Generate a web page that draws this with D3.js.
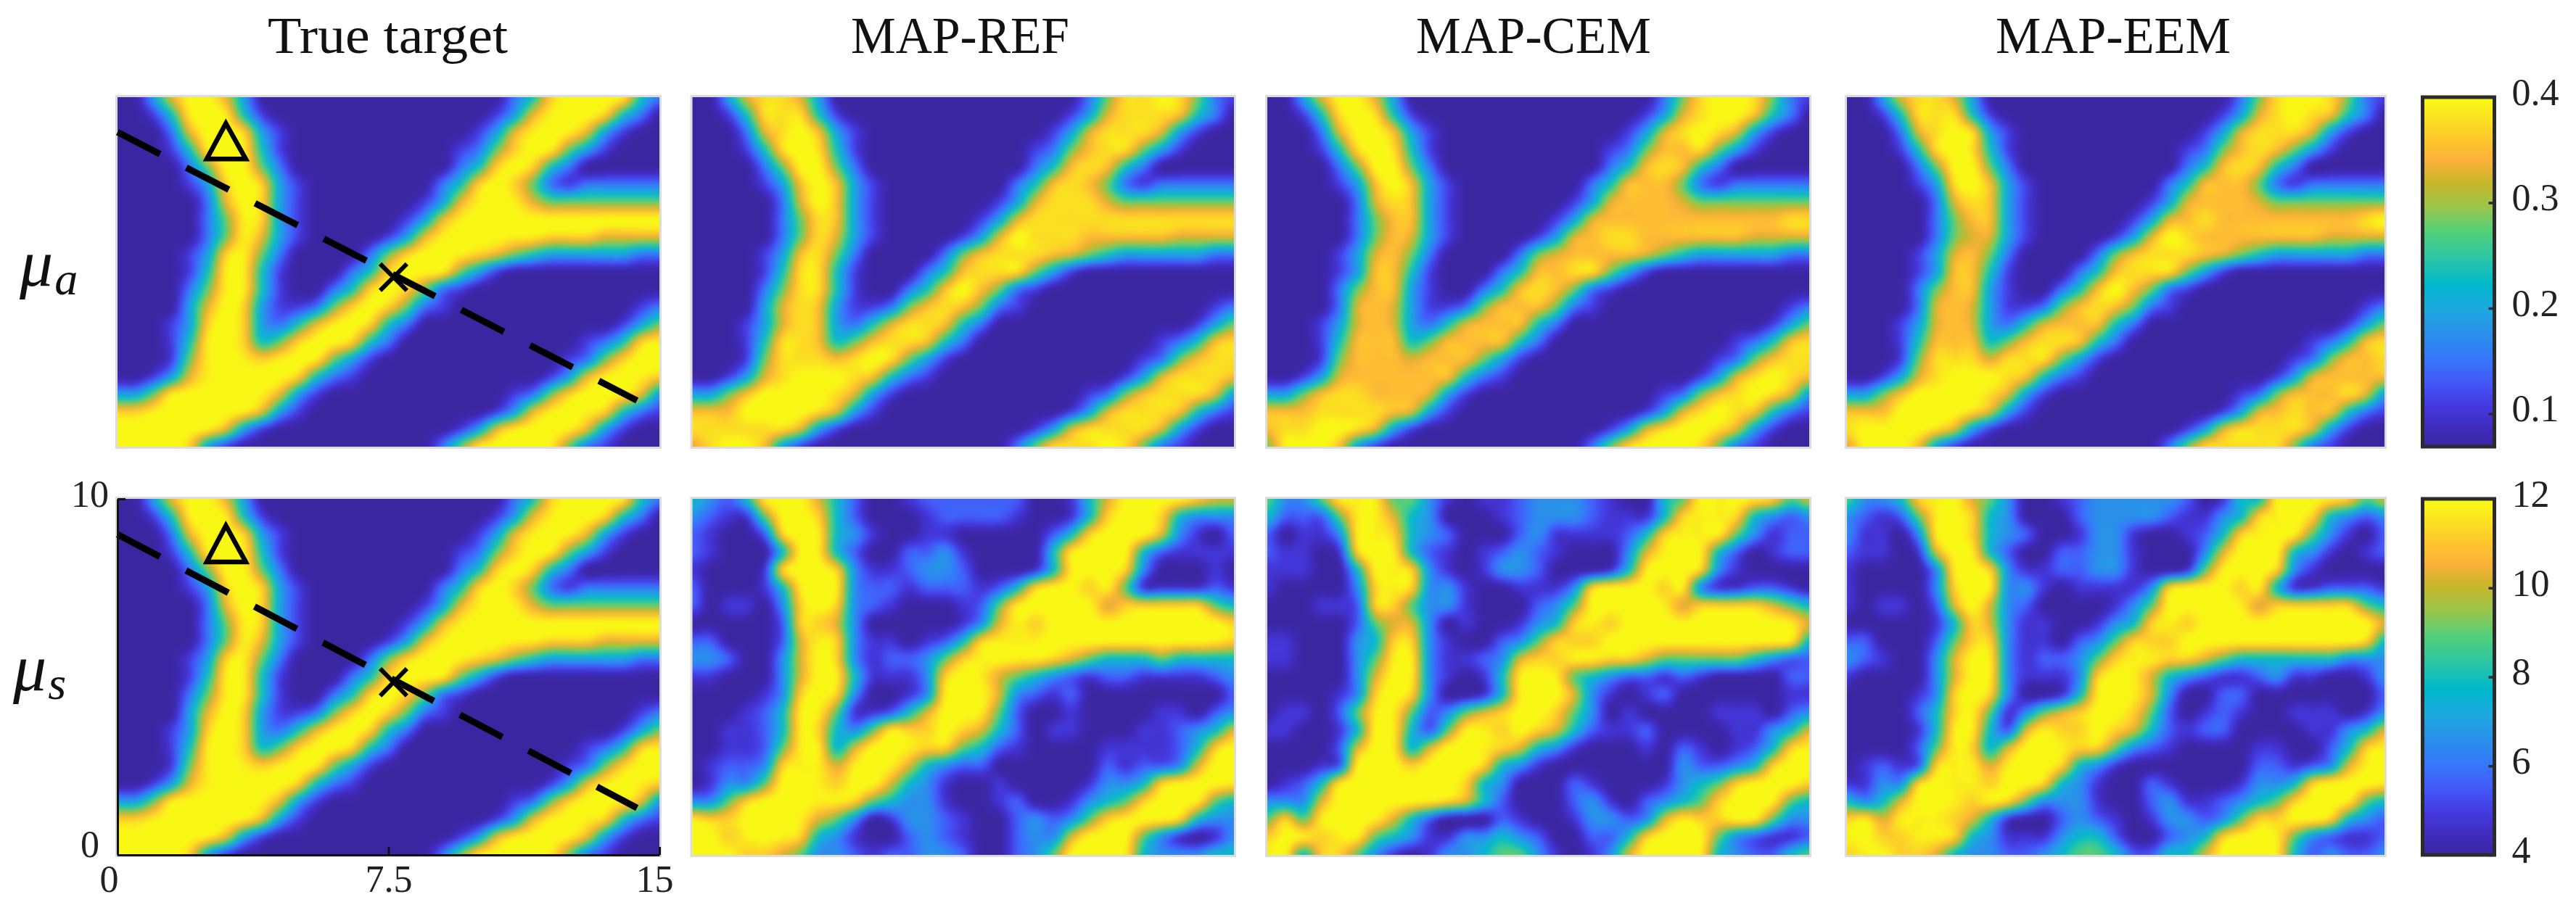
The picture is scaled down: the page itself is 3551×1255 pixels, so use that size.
<!DOCTYPE html>
<html><head><meta charset="utf-8">
<script src="https://cdn.jsdelivr.net/npm/d3@7"></script>
<style>html,body{margin:0;padding:0;background:#fff}svg{display:block}</style>
</head><body><svg id="c" width="3551" height="1255"></svg>
<script>
// ---- data -------------------------------------------------------------
const columnTitles = ["True target","MAP-REF","MAP-CEM","MAP-EEM"];
const xTicks = [0,7.5,15];
const yTicks = [0,10];
const muATicks = [0.1,0.2,0.3,0.4];
const muSTicks = [4,6,8,10,12];
const muADomain = [0.0687,0.4];
const muSDomain = [4,12];
const sightLine = [[0,9],[14.38,1.32]];
const triangleMark = [[3.0,9.25],[2.47,8.23],[3.55,8.23]];
const crossMark = [[7.27,4.47],[8.01,5.23],[7.27,5.23],[8.01,4.47]];
// colour-level codes of the grid nodes (0 = bottom of colour bar, 9 = top), rows y=10→0, columns x=0→15 every 0.5
const truthLevels  = {"0":0,"1":.13,"2":.26,"3":.38,"4":.5,"5":.64,"6":.8,"7":.9,"o":.9,"8":.97,"9":1};
const smoothLevels = {"0":0,"1":.13,"2":.26,"3":.38,"4":.5,"5":.64,"6":.78,"7":.85,"o":.85,"8":.93,"9":1};
const noisyLevels  = {"0":0,"1":.1,"2":.2,"3":.32,"4":.47,"5":.62,"6":.78,"7":.9,"o":.92,"8":.97,"9":1};
const colourFractions = [0,.047,.117,.187,.256,.326,.395,.465,.55,.62,.69,.758,.82,.884,1];
const colourHexes = ["#3b26a2","#3f2bb8","#4438de","#4458f8","#3678fb","#2a90ea","#1ea8e0","#00b8cc","#30c8a0","#55cf78","#9cc64a","#c8b72a","#fbb03a","#fdc92c","#f9fb14"];

const trueTarget = [
"003699630 0000000000000 247999842",
"0014898410 00000000000 1368997420",
"0002699731 0000000000 13689863100",
"0001489841 000000000 125798531000",
"0000259952 000000000 247974200000",
"00001379731 0000000 2479752 122222",
"00000269731 000000 1368986 5555555",
"00000258731 00000 1368 99999999999",
"00000258631 0000 1368 99988 777 6666",
"0000137852 0000 25799876543333322",
"0000148841 000 247998531 000000000",
"0000258841 00 24797521 00000000000",
"0000369731 125797521 0000000000 12",
"000137973 24689742 00000000000 135",
"000148974 5799742 0000000000 12478",
"000 158987898531 0000000000 125799",
"00136899997421 0000000000 1368987",
"335899998631 0000000000 125799863",
"77899998631 0000000000 1368987421",
"999998631 0000000000 136899863100",
"9999731 00000000000 2589998521000"];

const mapRefMuA = [
"003688630 0000000000000 258898521",
"0014888410 00000000000 1368887420",
"0002689731 0000000000 13688863100",
"0001489841 000000000 125788531000",
"0000259952 000000000 247874200000",
"00001379731 0000000 2478752 122222",
"00000269731 000000 1368886 5555555",
"00000258731 00000 1368 88888888888",
"00000258631 0000 1369 88877 777 6666",
"0000137852 0000 25788876543333322",
"0000148841 000 247888531 000000000",
"0000258841 00 24797521 00000000000",
"0000368731 125787521 0000000000 12",
"000136873 24688742 00000000000 135",
"000148874 5788742 0000000000 12478",
"000 158887898531 0000000000 125788",
"00136899987421 0000000000 1368887",
"335799998631 0000000000 125788863",
"77799998631 0000000000 1368887421",
"888888631 0000000000 136888863100",
"6899731 00000000000 2588898521000"];

const mapCemMuA = [
"003699630 0000000000000 258998521",
"0014898410 00000000000 1368997420",
"0002699731 0000000000 13689863100",
"0001489841 000000000 1257o8531000",
"0000259952 000000000 247874200000",
"00001379731 0000000 2477752 122222",
"00000268731 000000 1367776 5555555",
"00000257731 00000 1367 ooooooooo88",
"00000257631 0000 1367 88ooo ooo 6666",
"0000136752 0000 2567oo76543333322",
"0000137741 000 247788531 000000000",
"0000257731 00 24787521 00000000000",
"0000267631 1257o7521 0000000000 12",
"000136763 2467o742 00000000000 135",
"000147o74 57oo742 0000000000 12478",
"000 157oo67oo531 0000000000 125788",
"001367oooo7421 0000000000 1368987",
"335788oo7631 0000000000 125789863",
"77788887631 0000000000 1368987421",
"788998631 0000000000 136899863100",
"5999731 00000000000 2589998521000"];

const mapEemMuA = [
"003688630 0000000000000 258998521",
"0014888410 00000000000 1368987420",
"0002689831 0000000000 13688863100",
"0001489841 000000000 12578o531000",
"0000259952 000000000 247874200000",
"00001389731 0000000 2477752 122222",
"00000268731 000000 1367776 5555555",
"00000257731 00000 1367 8oooooooo89",
"00000256631 0000 1369 8oooo 777 6666",
"0000136752 0000 25788876543333322",
"0000137741 000 247888531 000000000",
"0000257731 00 24797521 00000000000",
"0000267631 125787521 0000000000 12",
"000136763 2467o742 00000000000 135",
"000147774 5788742 0000000000 12478",
"000 158886888531 0000000000 125778",
"00136899987421 0000000000 1367o77",
"335799998631 0000000000 1257oo863",
"77799998631 0000000000 13678o7421",
"899998631 0000000000 136888863100",
"6999731 00000000000 2588888521000"];

const mapRefMuS = [
"4324899642 0012222220 0146999976 6",
"3211599742 0001222210 0147997433 3",
"2100279843 1001100000 2479996310 2",
"2100049842 0022310000 4899942111 1",
"1000179973 1123320001 4899730001 0",
"2000148983 2212221247 9978511112 1",
"2011037973 2100012589 9996777775 4",
"0000027763 0000013687 9999999999 7",
"2200026873 1101247888 9999999998 7",
"3320036973 1223578988 7654445444 4",
"1100036984 1113798654 3212211112 3",
"0000137973 0013899632 1200000000 2",
"0001248851 1246998520 0100001102 3",
"0011248743 5877976420 1100011234 6",
"0011258846 9987754210 0001111247 9",
"0122378868 9864322000 0002122369 9",
"0133599879 9643100100 0013347999 8",
"3357999887 5433100120 0134579985 4",
"8779998653 0133210023 2357899743 3",
"9978987431 0023210023 3699953101 3",
"9997765332 1223320023 5999843334 4"];

const mapCemMuS = [
"5335888553 1011233321 0045989875 6",
"4222588643 0001233321 1147887432 3",
"2011388743 2000231111 2478885312 2",
"2110179842 1012321000 3689842012 2",
"1110049873 1013320001 4899731000 0",
"1000037873 3100111379 9978311221 0",
"0001127753 3100023599 9986777765 4",
"0000025663 0100134787 9999999998 6",
"1100034773 1002357779 9999999998 4",
"1100035883 1123677887 7655555432 2",
"0000036983 1014898543 2212100002 2",
"0000137973 0014899631 0120000001 1",
"0110258852 3567997530 1000011102 3",
"1100149842 5887976421 1200001134 6",
"0000269846 9987643100 0102101247 8",
"0001299979 9974310000 0003223479 9",
"0124899999 9743000210 0013457999 7",
"3336999998 7642000231 0234579985 4",
"5758998642 0002100133 2368779853 3",
"7987885431 1334320022 4799953211 2",
"8947753101 3345531013 6999843224 5"];

const mapEemMuS = [
"5334789653 0012333332 0144999875 6",
"3212589743 0002333321 1347897432 3",
"3110389743 2001331001 2478985310 2",
"2110169842 0022331000 3699943101 2",
"1000038973 1122331001 5899731000 0",
"1000037983 3101111379 9978411222 1",
"1011026963 2000013599 9986777775 4",
"0000014763 1100134787 9999999999 6",
"2200025773 1102357779 9999999997 4",
"3210036983 1223578877 6544444433 3",
"1000036983 1113798643 2112311001 3",
"0000137973 0014898630 0220000000 2",
"0000247851 3567997520 1210011101 3",
"0000148842 6877976421 2200001134 6",
"0000258746 9987753210 0001100247 8",
"0121278868 9974310000 0002212368 9",
"1133798879 9743100210 0013347999 8",
"4346998787 5333100231 1234579985 4",
"7868887641 0023210133 2357799743 2",
"8977887431 1134420023 4799853211 2",
"7897764332 2345542244 6999842322 3"];

// ---- layout -----------------------------------------------------------
const panelXs = [[162,909],[954.5,1701],[1747,2494],[2546,3287]];
const rowYs = [[134,616],[688,1179]];
const titleSpans = [[369,700],[1173,1474],[1952,2276],[2751,3075]];
const svg = d3.select("#c");
const defs = svg.append("defs");
defs.append("filter").attr("id","soft").attr("x","-5%").attr("y","-5%").attr("width","110%").attr("height","110%")
  .attr("color-interpolation-filters","sRGB")
  .append("feGaussianBlur").attr("stdDeviation",3);

const SERIF = "'Liberation Serif',serif";
const colourOf = d3.scaleLinear().domain(colourFractions).range(colourHexes).interpolate(d3.interpolateRgb).clamp(true);
const thresholds = d3.range(1,72).map(i=>i/72);

const NX=31,NY=21,K=4,PAD=8;   // display resampling of the read-off grid
function parseGrid(rows,table){
  return rows.map(r=>{
    const s=r.replace(/ /g,"").padEnd(NX,"0").slice(0,NX);
    return Array.from(s,ch=>table[ch]);
  });
}
function cubic(a,b,c,d,t){ // Catmull-Rom
  return .5*((2*b)+(-a+c)*t+(2*a-5*b+4*c-d)*t*t+(-a+3*b-3*c+d)*t*t*t);
}
function resample(g){
  const W=(NX-1)*K+1+2*PAD,H=(NY-1)*K+1+2*PAD,out=new Array(W*H);
  const cl=(v,n)=>Math.max(0,Math.min(n-1,v));
  for(let j=0;j<H;j++){
    const fy=cl((j-PAD)/K,NY),iy=Math.min(Math.floor(fy),NY-2),ty=fy-iy;
    for(let i=0;i<W;i++){
      const fx=cl((i-PAD)/K,NX),ix=Math.min(Math.floor(fx),NX-2),tx=fx-ix;
      const col=[-1,0,1,2].map(dy=>{
        const r=g[cl(iy+dy,NY)];
        return cubic(r[cl(ix-1,NX)],r[ix],r[ix+1],r[cl(ix+2,NX)],tx);
      });
      out[i+j*W]=Math.max(0,Math.min(1,cubic(col[0],col[1],col[2],col[3],ty)));
    }
  }
  return {W,H,out};
}

function drawPanel(rows,table,col,row){
  const [x0,x1]=panelXs[col],[y0,y1]=rowYs[row];
  const sx=d3.scaleLinear().domain([0,15]).range([x0,x1]);
  const sy=d3.scaleLinear().domain([0,10]).range([y1,y0]);
  const id=`clip${col}${row}`;
  defs.append("clipPath").attr("id",id).append("rect").attr("x",x0).attr("y",y0).attr("width",x1-x0).attr("height",y1-y0);
  const dom=row===0?muADomain:muSDomain;
  const toUnit=d3.scaleLinear().domain([0,1]).range(dom);
  const {W,H,out}=resample(parseGrid(rows,table));
  const gen=d3.contours().size([W,H]).thresholds(thresholds.map(toUnit)).smooth(true);
  const px=v=>sx((v-.5-PAD)/K*.5), py=v=>sy(10-(v-.5-PAD)/K*.5);
  const path=d3.geoPath(d3.geoTransform({point(x,y){this.stream.point(px(x),py(y));}}));
  svg.append("rect").attr("x",x0-1.5).attr("y",y0-1.5).attr("width",x1-x0+3).attr("height",y1-y0+3)
    .attr("fill","none").attr("stroke","#dcdcdc").attr("stroke-width",3);
  const g=svg.append("g").attr("clip-path",`url(#${id})`).append("g").attr("filter","url(#soft)");
  g.append("rect").attr("x",x0-20).attr("y",y0-20).attr("width",x1-x0+40).attr("height",y1-y0+40).attr("fill",colourOf(0));
  g.selectAll("path").data(gen(out.map(toUnit))).join("path").attr("d",path)
    .attr("fill",d=>colourOf(toUnit.invert(d.value)+.5/72));
  return {sx,sy};
}

const grids=[
  [[trueTarget,truthLevels],[mapRefMuA,smoothLevels],[mapCemMuA,smoothLevels],[mapEemMuA,smoothLevels]],
  [[trueTarget,truthLevels],[mapRefMuS,noisyLevels],[mapCemMuS,noisyLevels],[mapEemMuS,noisyLevels]]];
const scales=grids.map((g,r)=>g.map(([rows,t],c)=>drawPanel(rows,t,c,r)));

// markers on the true-target panels
scales.forEach(row=>{
  const {sx,sy}=row[0];
  const line=d3.line().x(d=>sx(d[0])).y(d=>sy(d[1]));
  const m=svg.append("g").attr("fill","none").attr("stroke","#000");
  m.append("path").attr("d",line(sightLine)).attr("stroke-width",9).attr("stroke-dasharray","66 40.7");
  m.append("path").attr("d",line(triangleMark)+"Z").attr("stroke-width",6.5).attr("stroke-linejoin","miter");
  m.append("path").attr("d",line(crossMark.slice(0,2))).attr("stroke-width",6);
  m.append("path").attr("d",line(crossMark.slice(2,4))).attr("stroke-width",6);
});

// axes on the bottom-left panel
{
  const {sx,sy}=scales[1][0];
  const gx=svg.append("g").attr("transform",`translate(0,${rowYs[1][1]})`)
    .call(d3.axisBottom(sx).tickValues(xTicks).tickFormat(d3.format("")).tickSizeInner(-11).tickSizeOuter(0).tickPadding(14));
  const gy=svg.append("g").attr("transform",`translate(${panelXs[0][0]},0)`)
    .call(d3.axisLeft(sy).tickValues(yTicks).tickFormat(d3.format("")).tickSizeInner(-11).tickSizeOuter(0).tickPadding(12));
  [gx,gy].forEach(g=>{
    g.selectAll("path.domain").attr("stroke","#111").attr("stroke-width",3);
    g.selectAll("line").attr("stroke","#111").attr("stroke-width",3);
    g.selectAll("text").attr("font-family",SERIF).attr("font-size",52).attr("fill","#222");
  });
  gx.selectAll("g.tick text").attr("dx",d=>d===0?-12:d===15?-7:0).attr("y",14).attr("dy","0.71em");
  gy.selectAll("g.tick text").attr("x",d=>d===0?-25:-12).attr("dy",d=>d===0?"0.05em":"0.2em");
}

// titles
columnTitles.forEach((t,i)=>{
  const [a,b]=titleSpans[i];
  svg.append("text").attr("x",a).attr("y",73).attr("font-family",SERIF).attr("font-size",72)
    .attr("textLength",b-a).attr("lengthAdjust","spacingAndGlyphs").attr("fill","#111").text(t);
});

// row labels
[["a",27,394,"μ"],["s",18,952,"μ"]].forEach(([sub,x,y,mu])=>{
  const t=svg.append("text").attr("x",x).attr("y",y).attr("font-family",SERIF).attr("font-style","italic").attr("fill","#111");
  t.append("tspan").attr("font-size",92).text(mu);
  t.append("tspan").attr("font-size",64).attr("dy",12).attr("dx",2).text(sub);
});

// colour bars
[[muADomain,muATicks,rowYs[0],d3.format(".1f")],[muSDomain,muSTicks,rowYs[1],d3.format("d")]].forEach(([dom,ticks,ys,fmt])=>{
  const barX=[3339.5,3438.5];
  const sc=d3.scaleLinear().domain(dom).range([ys[1],ys[0]]);
  const g=svg.append("g");
  g.selectAll("rect").data(d3.range(0,240)).join("rect")
    .attr("x",barX[0]).attr("width",barX[1]-barX[0])
    .attr("y",i=>ys[1]-(i+1)*(ys[1]-ys[0])/240).attr("height",(ys[1]-ys[0])/240+1)
    .attr("fill",i=>colourOf((i+.5)/240));
  g.append("rect").attr("x",barX[0]).attr("y",ys[0]).attr("width",barX[1]-barX[0]).attr("height",ys[1]-ys[0])
    .attr("fill","none").attr("stroke","#2b2b2b").attr("stroke-width",5);
  const ax=svg.append("g").attr("transform",`translate(${barX[1]},0)`)
    .call(d3.axisRight(sc).tickValues(ticks).tickFormat(fmt).tickSizeInner(-8).tickSizeOuter(0).tickPadding(24));
  ax.select("path.domain").remove();
  ax.selectAll("line").attr("stroke","#2b2b2b").attr("stroke-width",3.5)
    .style("display",d=>(d===dom[1])?"none":null);
  ax.selectAll("text").attr("font-family",SERIF).attr("font-size",52).attr("fill","#222").attr("dy","0.2em");
});
</script></body></html>
